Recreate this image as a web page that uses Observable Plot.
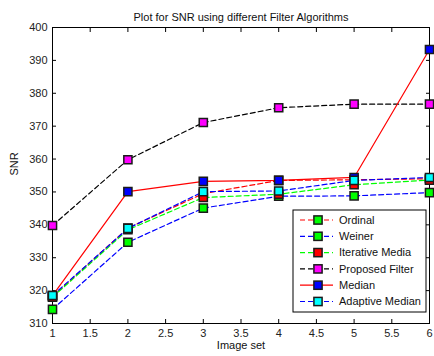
<!DOCTYPE html>
<html>
<head>
<meta charset="utf-8">
<script src="https://cdn.jsdelivr.net/npm/d3@7"></script>
<script src="https://cdn.jsdelivr.net/npm/@observablehq/plot@0.6"></script>
<style>
  html, body { margin: 0; padding: 0; background: white; }
  svg { display: block; }
</style>
</head>
<body>
<div id="chart"></div>
<script>
const imageSet = [1, 2, 3, 4, 5, 6];
const seriesNames = ["Ordinal", "Weiner", "Iterative Media", "Proposed Filter", "Median", "Adaptive Median"];
const ordinal   = [318.2, 339.0, 349.5, 353.5, 353.7, 354.0];
const weiner    = [314.3, 334.7, 345.1, 348.7, 348.8, 349.8];
const iterative = [318.0, 338.5, 348.3, 349.3, 352.2, 353.6];
const proposed  = [339.8, 359.8, 371.1, 375.6, 376.7, 376.7];
const median    = [318.5, 350.1, 353.2, 353.5, 354.4, 393.3];
const adaptive  = [318.5, 338.9, 350.1, 350.3, 353.5, 354.4];
const allSeries = [ordinal, weiner, iterative, proposed, median, adaptive];
const lineColors = ["#ff0000", "#0000ff", "#00ff00", "#000000", "#ff0000", "#0000ff"];
const markerColors = ["#00ff00", "#00ff00", "#ff0000", "#ff00ff", "#0000ff", "#00ffff"];
const dashed = [true, true, true, true, false, true];
const xTicks = [1, 1.5, 2, 2.5, 3, 3.5, 4, 4.5, 5, 5.5, 6];
const yTicks = [310, 320, 330, 340, 350, 360, 370, 380, 390, 400];

const font = "'Liberation Sans', Arial, Helvetica, sans-serif";
const dash = "5,3";

const seriesMarks = [];
allSeries.forEach((vals, i) => {
  const rows = imageSet.map((x, j) => ({x, y: vals[j]}));
  seriesMarks.push(Plot.line(rows, {x: "x", y: "y", stroke: lineColors[i], strokeWidth: 1.2,
    strokeDasharray: dashed[i] ? dash : null}));
  seriesMarks.push(Plot.dot(rows, {x: "x", y: "y", symbol: "square", r: 4.6, fill: markerColors[i],
    stroke: "#1a1a1a", strokeWidth: 1.5}));
});

const chart = Plot.plot({
  width: 434,
  height: 356,
  marginLeft: 52,
  marginRight: 5,
  marginTop: 27,
  marginBottom: 33,
  style: {fontFamily: font, fontSize: "11px", background: "white", color: "black"},
  x: {domain: [1, 6]},
  y: {domain: [310, 400]},
  marks: [
    Plot.frame({stroke: "black", strokeWidth: 1}),
    Plot.axisX({ticks: xTicks, tickSize: 0, tickPadding: 6, tickFormat: d => String(d), label: null, fill: "#222"}),
    Plot.axisX({ticks: xTicks, tickSize: -4, text: null, label: null}),
    Plot.axisX({ticks: xTicks, anchor: "top", tickSize: -4, text: null, label: null}),
    Plot.axisY({ticks: yTicks, tickSize: 0, tickPadding: 5, tickFormat: d => String(d), label: null, fill: "#222"}),
    Plot.axisY({ticks: yTicks, tickSize: -4, text: null, label: null}),
    Plot.axisY({ticks: yTicks, anchor: "right", tickSize: -4, text: null, label: null}),
    ...seriesMarks,
    Plot.text(["Plot for SNR using different Filter Algorithms"], {frameAnchor: "top", dy: -14, fontSize: 11, fill: "#111"}),
    Plot.text(["Image set"], {frameAnchor: "bottom", dy: 25, fontSize: 11, fill: "#111"}),
    Plot.text(["SNR"], {frameAnchor: "left", dx: -38, rotate: -90, fontSize: 11, fill: "#111"})
  ]
});

// Legend inside the axes, lower right
const svg = d3.select(chart);
const lg = svg.append("g").attr("transform", "translate(293,210)");
lg.append("rect").attr("x", 0).attr("y", 0).attr("width", 133).attr("height", 102)
  .attr("fill", "white").attr("stroke", "black").attr("stroke-width", 1);
seriesNames.forEach((name, i) => {
  const cy = 10 + i * 16.3;
  lg.append("line").attr("x1", 7).attr("x2", 40).attr("y1", cy).attr("y2", cy)
    .attr("stroke", lineColors[i]).attr("stroke-width", 1.2)
    .attr("stroke-dasharray", dashed[i] ? dash : null);
  lg.append("rect").attr("x", 25 - 4.1).attr("y", cy - 4.1).attr("width", 8.2).attr("height", 8.2)
    .attr("fill", markerColors[i]).attr("stroke", "#1a1a1a").attr("stroke-width", 1.5);
  lg.append("text").attr("x", 46).attr("y", cy).attr("dy", "0.35em")
    .attr("text-anchor", "start")
    .attr("font-family", font).attr("font-size", 11).attr("fill", "#111").text(name);
});

document.getElementById("chart").appendChild(chart);
</script>
</body>
</html>
